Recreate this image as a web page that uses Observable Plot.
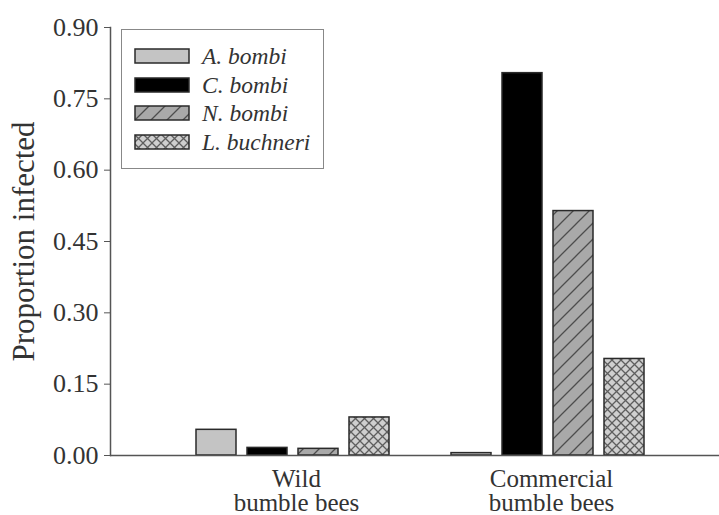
<!DOCTYPE html>
<html>
<head>
<meta charset="utf-8">
<script src="https://cdn.jsdelivr.net/npm/d3@7"></script>
<script src="https://cdn.jsdelivr.net/npm/@observablehq/plot@0.6"></script>
<style>
  body { margin: 0; background: #fff; }
  #wrap { position: relative; width: 719px; height: 515px; font-family: "Liberation Serif", "Times New Roman", serif; }
  #legend { position: absolute; left: 121px; top: 29px; width: 201px; height: 138px; border: 1px solid #888; background: #fff; }
  .row { position: absolute; left: 12px; height: 28px; display: flex; align-items: center; }
  .row svg { display: block; }
  .row span { margin-left: 12px; font-style: italic; font-size: 23.5px; color: #333; }
</style>
</head>
<body>
<div id="wrap">
  <svg width="0" height="0" style="position:absolute">
    <defs>
      <pattern id="pat-n" patternUnits="userSpaceOnUse" width="16" height="16">
        <rect width="16" height="16" fill="#a9a9a9"></rect>
        <path d="M-2,2 L2,-2 M0,16 L16,0 M14,18 L18,14" stroke="#4d4d4d" stroke-width="1.3"></path>
      </pattern>
      <pattern id="pat-l" patternUnits="userSpaceOnUse" width="9" height="9">
        <rect width="9" height="9" fill="#cfcfcf"></rect>
        <path d="M0,0 L9,9 M9,0 L0,9" stroke="#5e5e5e" stroke-width="1.3"></path>
      </pattern>
    </defs>
  </svg>
  <div id="chart"></div>
  <div id="legend"></div>
</div>
<script>
// ---- data ----
const groups = ["Wild", "Commercial"];
const groupLabels = ["Wild\nbumble bees", "Commercial\nbumble bees"];
const series = ["A. bombi", "C. bombi", "N. bombi", "L. buchneri"];
const wildValues = [0.054, 0.016, 0.014, 0.080];
const commercialValues = [0.005, 0.804, 0.514, 0.203];
const yTicks = [0, 0.15, 0.30, 0.45, 0.60, 0.75, 0.90];
const seriesFills = ["#c4c4c4", "#000000", "url(#pat-n)", "url(#pat-l)"];

// ---- table ----
const valuesByGroup = [wildValues, commercialValues];
const rows = [];
groups.forEach((g, gi) => series.forEach((s, si) => rows.push({group: g, series: s, key: g + "|" + s, value: valuesByGroup[gi][si]})));
const xDomain = [...series.map(s => "Wild|" + s), "gap", ...series.map(s => "Commercial|" + s)];
const labelRows = groups.map((g, i) => ({key: g + "|" + series[1], label: groupLabels[i]}));

const plot = Plot.plot({
  width: 719,
  height: 515,
  marginLeft: 110,
  marginRight: 0,
  marginTop: 27,
  marginBottom: 60,
  style: {fontFamily: "'Liberation Serif', 'Times New Roman', serif", background: "#fff", color: "#333"},
  x: {domain: xDomain, range: [188.3, 651.8], paddingInner: 0.223, paddingOuter: 0.1115, axis: null},
  y: {domain: [0, 0.9], axis: null},
  color: {domain: series, range: seriesFills},
  marks: [
    Plot.barY(rows, {x: "key", y: "value", fill: "series", stroke: "#2a2a2a", strokeWidth: 1.5}),
    Plot.frame({anchor: "left", stroke: "#555", strokeWidth: 1.5}),
    Plot.ruleY([0], {stroke: "#555", strokeWidth: 1.5}),
    Plot.axisY({ticks: yTicks, tickFormat: d3.format(".2f"), tickSize: 6, tickPadding: 6, fontSize: 26, label: null, stroke: "#555"}),
    Plot.text(labelRows, {x: "key", y: 0, text: "label", dx: 29, dy: 14, lineAnchor: "top", lineHeight: 0.97, fontSize: 25, fill: "#333"}),
    Plot.text(["Proportion infected"], {frameAnchor: "left", textAnchor: "middle", rotate: -90, dx: -86, fontSize: 31, fill: "#333"})
  ]
});
document.getElementById("chart").appendChild(plot);

// ---- legend ----
const legend = document.getElementById("legend");
const rowTops = [12, 41, 69, 98];
series.forEach((s, i) => {
  const r = document.createElement("div");
  r.className = "row";
  r.style.top = rowTops[i] + "px";
  r.innerHTML = `<svg width="56" height="16"><rect x="1" y="1" width="54" height="14" fill="${seriesFills[i]}" stroke="#2a2a2a" stroke-width="1.5"></rect></svg><span>${s}</span>`;
  legend.appendChild(r);
});
</script>
</body>
</html>
